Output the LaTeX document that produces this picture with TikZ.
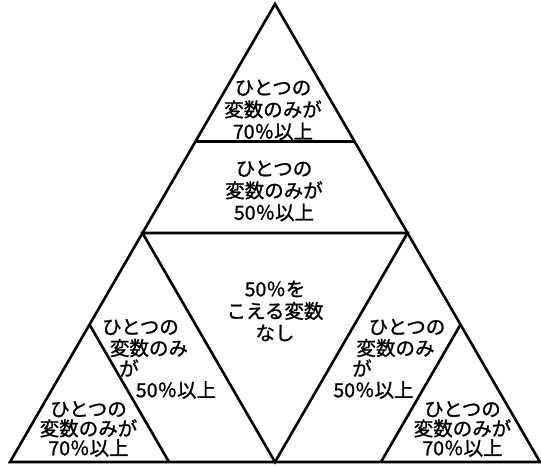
\documentclass[tikz,border=0pt]{standalone}
\usepackage{fontspec}
\usetikzlibrary{calc}
\newfontfamily\jp{Noto Sans CJK JP}[FakeBold=1.2]
\begin{document}
\begin{tikzpicture}[x=1pt,y=-1pt,
  edge/.style={line width=2.6pt, line join=miter},
  lbl/.style={font=\jp\fontsize{19.5}{22}\selectfont, align=center, inner sep=0pt},
  lblc/.style={font=\jp\fontsize{19.5}{19.5}\selectfont, align=center, inner sep=0pt}]
\useasboundingbox (0,0) rectangle (541,466);
% main vertices
\coordinate (A) at (275,4);
\coordinate (BL) at (10,462);
\coordinate (BR) at (540,462);
\coordinate (L) at (142.5,233);
\coordinate (R) at (407.5,233);
\coordinate (M) at (275,462);
% dividing points
\coordinate (T1) at ($(A)!0.6!(L)$);
\coordinate (T2) at ($(A)!0.6!(R)$);
\coordinate (P1) at ($(BL)!0.6!(L)$);
\coordinate (P2) at ($(BL)!0.6!(M)$);
\coordinate (Q1) at ($(BR)!0.6!(R)$);
\coordinate (Q2) at ($(BR)!0.6!(M)$);
\draw[edge] (A) -- (BL) -- (BR) -- cycle;
\draw[edge] (L) -- (R) -- (M) -- cycle;
\draw[edge] (T1) -- (T2);
\draw[edge] (P1) -- (P2);
\draw[edge] (Q1) -- (Q2);
% labels
\node[lbl] (top) at (273,110) {ひとつの\\変数のみが\\70％以上};
\node[lbl] (second) at (274,191) {ひとつの\\変数のみが\\50％以上};
\node[lbl] (center) at (275,311) {50％を\\こえる変数\\なし};
\node[lbl] (lm1) at (140.5,327) {ひとつの};
\node[lbl] (lm2) at (149,348) {変数のみ};
\node[lbl] (lm3) at (129,368) {が};
\node[lbl] (lm4) at (176,390) {50％以上};
\node[lbl] (rm1) at (407,327) {ひとつの};
\node[lbl] (rm2) at (395.5,348) {変数のみ};
\node[lbl] (rm3) at (362,368) {が};
\node[lbl] (rm4) at (373.5,390) {50％以上};
\node[lblc] (bl) at (88.5,429) {ひとつの\\変数のみが\\70％以上};
\node[lblc] (br) at (462.5,429) {ひとつの\\変数のみが\\70％以上};
\end{tikzpicture}
\end{document}
